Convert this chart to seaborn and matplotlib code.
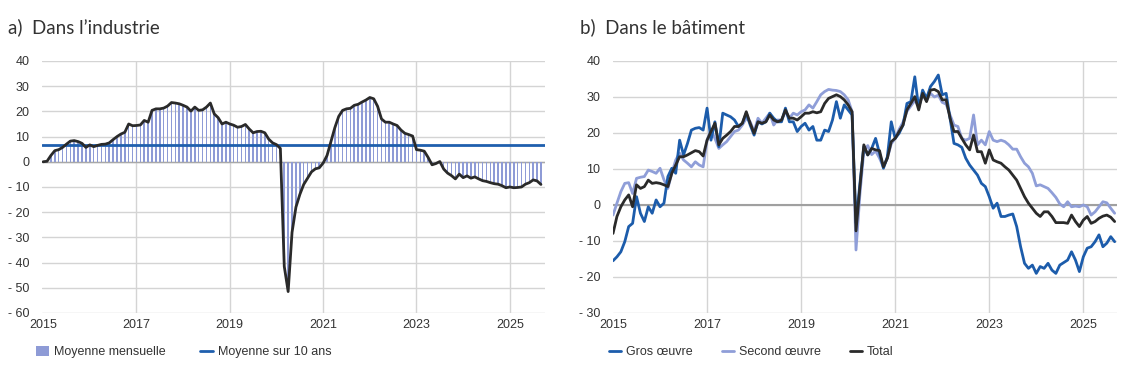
import matplotlib
matplotlib.use('Agg')
import matplotlib.pyplot as plt
import matplotlib.font_manager as fm
from matplotlib.lines import Line2D
from matplotlib.patches import Patch
from matplotlib.ticker import FuncFormatter
import seaborn as sns
import numpy as np

# Monthly data, Jan 2015 -> Sep 2025 (129 months)
industrie = [
    0, 0.2, 2.5, 4.4, 4.8, 5.7, 7, 8.2, 8.4, 8, 7.3, 5.7,
    6.7, 6, 6.5, 6.9, 7, 7.5, 8.8, 10, 11, 11.7, 15, 14.3,
    14.4, 14.6, 16.4, 15.7, 20.4, 21, 21, 21.3, 22.1, 23.5, 23.3, 23,
    22.4, 21.7, 20.1, 21.7, 20.4, 20.6, 21.7, 23.3, 19, 17.5, 15, 15.7,
    15, 14.5, 13.7, 14, 14.8, 13, 11.5, 12, 12.1, 11.5, 9, 7.5,
    6.8, 5.3, -41.5, -51.5, -28, -18, -13, -9, -6.5, -4, -2.8, -2.4,
    -0.5, 2.5, 8, 13.5, 18, 20.4, 21, 21.2, 22.4, 22.8, 23.7, 24.5,
    25.5, 25, 22, 17, 15.7, 15.7, 15, 14.4, 12.6, 11.3, 10.8, 10.2,
    4.8, 4.6, 4.2, 1.7, -1.2, -0.7, 0.1, -2.9, -4.5, -5.5, -6.8, -4.9,
    -6.3, -5.6, -6.5, -6, -6.8, -7.5, -7.8, -8.3, -8.7, -8.9, -9.5, -10.3,
    -10, -10.3, -10.2, -10, -8.9, -8.3, -7.2, -7.6, -9,
]
moyenne_10_ans = 6.7

gros_oeuvre = [
    -15.5, -14.4, -13, -10.2, -6, -5.1, 2.3, -2.3, -4.6, -0.5, -2.3, 1.4,
    -0.5, 0.5, 7.9, 10.2, 8.8, 18, 13.9, 17.1, 20.8, 21.3, 21.5, 20.8,
    26.9, 18, 23.1, 16.2, 25.5, 25, 24.5, 23.6, 21.8, 22.7, 25.5, 22.2,
    19.4, 23.1, 22.5, 23.1, 25.5, 24.1, 23.1, 23.1, 26.9, 23.1, 23.1, 20.4,
    21.8, 22.7, 20.8, 21.8, 18, 18, 20.8, 20.4, 23.6, 28.7, 24.1, 27.8,
    26.4, 25, -5, 6,
    16.2, 13.9, 15.7, 18.5, 14.4, 10.2, 13.4, 23.1,
    18.5, 19.9, 22.2, 28.2, 28.7, 35.6, 26.9, 31.9, 29.6, 32.9, 34.3, 36.1,
    30.6, 31, 24.1, 17.1, 16.7, 16, 13, 11.1, 9.7, 8.3, 6, 5.1,
    2.3, -0.9, 0.5, -3.2, -3.2, -2.8, -2.5, -6, -11.6, -16.2, -17.6, -16.7,
    -19, -17.1, -17.6, -16.2, -18.1, -19, -16.7, -16, -15.3, -13, -15.3, -18.5,
    -14.4, -12, -11.6, -10.2, -8.3, -11.6, -10.6, -8.8, -10.2,
]
second_oeuvre = [
    -2.8, 0.5, 3.7, 6, 6.2, 3.2, 7.4, 7.7, 7.9, 9.7, 9.3, 8.8,
    10.2, 7, 4.6, 8.8, 12.5, 14.4, 12.5, 11.6, 10.6, 12, 11.1, 10.6,
    18, 20.8, 18.5, 15.7, 16.7, 17.6, 19, 20.4, 20.8, 22.2, 24.1, 23.1,
    20.4, 24.1, 22.7, 24.1, 25.5, 22.2, 23.6, 23.6, 25.9, 24.1, 25.5, 25,
    25.9, 26.4, 27.8, 26.9, 28.7, 30.6, 31.5, 32.1, 31.9, 31.8, 31.5, 30.6,
    29.2, 25.9, -12.5, 3,
    15, 16.5, 14, 15, 13, 10.5, 13, 17,
    18.5, 21, 23, 26, 27.5, 29, 27.5, 30.5, 29, 31, 30, 30.5,
    28.5, 28, 25, 22.2, 21.8, 18.5, 18, 18.5, 25, 16.7, 18, 16.7,
    20.4, 18, 17.6, 18, 17.6, 16.7, 15.5, 15.5, 13.4, 11.6, 10.6, 8.8,
    5.3, 5.6, 5.1, 4.6, 3.4, 2.1, 0.3, -0.5, 0.9, -0.5, -0.3, -0.5,
    0, -0.5, -2.8, -1.9, -0.5, 0.9, 0.6, -0.9, -2.3,
]
total = [
    -7.9, -3.2, -0.5, 1.4, 2.8, -0.5, 5.6, 4.6, 5.1, 6.9, 6, 6.2,
    6, 5.6, 5.1, 8.8, 11.1, 13.4, 13.4, 13.9, 14.5, 15.1, 14.8, 13.6,
    18, 20.4, 22.7, 16.7, 18.5, 19.4, 20.4, 21.8, 21.8, 22.7, 25.9, 22.7,
    19.9, 23.1, 22.7, 23.1, 25, 23.6, 23.1, 23.6, 26.4, 24.1, 24.1, 23.6,
    24.5, 25.5, 25.5, 25.9, 25.6, 25.9, 28.2, 29.6, 30.1, 30.6, 30.1, 29.2,
    27.8, 25.9, -7.2, 5,
    16.7, 13.9, 15.7, 15.3, 15.1, 10.6, 13, 17.6,
    18.5, 20.4, 22.2, 26.4, 28.2, 30.1, 26.4, 31, 28.7, 31.9, 32.1, 31.5,
    29.2, 29.2, 24.1, 20.4, 20.4, 18.5, 16.7, 15.3, 19.4, 14.8, 14.8, 11.6,
    15.3, 12.5, 12, 11.6, 10.6, 9.7, 8.3, 6.9, 4.6, 2.3, 0.5, -0.9,
    -2.3, -3.2, -1.9, -1.9, -3.2, -4.9, -4.9, -4.9, -5.1, -2.8, -4.6, -6,
    -4.2, -3.2, -5.1, -4.6, -3.7, -3.1, -2.8, -3.4, -4.6,
]
year_ticks = [2015, 2017, 2019, 2021, 2023, 2025]

months = np.arange(len(industrie))

# fonts
avail = {f.name for f in fm.fontManager.ttflist}
if 'Liberation Sans Narrow' in avail:
    base_font, base_size = 'Liberation Sans Narrow', 10.5
else:
    base_font, base_size = 'Liberation Sans', 9

sns.set_style('white')
plt.rcParams['font.family'] = [base_font, 'DejaVu Sans']

c_bar = '#8e9bd6'
c_mean = '#1f5fae'
c_gros = '#1c5cab'
c_second = '#8f9ed8'
c_total = '#2a2a2a'
c_grid = '#d4d4d4'
c_text = '#333333'

fig = plt.figure(figsize=(11.25, 3.81), dpi=100)
ax1 = fig.add_axes([0.0373, 0.1785, 0.447, 0.6615])
ax2 = fig.add_axes([0.5449, 0.1785, 0.448, 0.6615])


def fmt_y(v, pos):
    v = int(round(v))
    return '- %d' % abs(v) if v < 0 else '%d' % v


def style_axis(ax, ylim):
    ax.set_ylim(*ylim)
    ax.set_yticks(np.arange(ylim[0], ylim[1] + 1, 10))
    ax.yaxis.set_major_formatter(FuncFormatter(fmt_y))
    ax.set_xticks([(y - 2015) * 12 for y in year_ticks])
    ax.set_xticklabels([str(y) for y in year_ticks])
    ax.grid(True, color=c_grid, lw=1)
    ax.set_axisbelow(True)
    ax.xaxis.get_gridlines()[0].set_visible(False)
    for sp in ax.spines.values():
        sp.set_visible(False)
    ax.tick_params(axis='both', length=0, labelsize=base_size, colors=c_text)
    ax.tick_params(axis='y', pad=9)
    ax.tick_params(axis='x', pad=4)
    ax.set_xlabel('')
    ax.set_ylabel('')


# a) industrie
sns.barplot(x=months, y=industrie, native_scale=True, width=0.4, color=c_bar,
            saturation=1, linewidth=0, errorbar=None, ax=ax1, zorder=2)
ax1.axhline(0, color='#a8a8a8', lw=1, zorder=1.5)
ax1.axhline(moyenne_10_ans, color=c_mean, lw=2, zorder=3)
sns.lineplot(x=months, y=industrie, color=c_total, lw=2, ax=ax1, zorder=4)
ax1.set_xlim(-0.3, 129)
style_axis(ax1, (-60, 40))

# b) batiment
ax2.axhline(0, color='#a0a0a0', lw=1.5, zorder=1.5)
sns.lineplot(x=months, y=second_oeuvre, color=c_second, lw=2, ax=ax2, zorder=3)
sns.lineplot(x=months, y=gros_oeuvre, color=c_gros, lw=2, ax=ax2, zorder=4)
sns.lineplot(x=months, y=total, color=c_total, lw=2, ax=ax2, zorder=5)
ax2.set_xlim(0, 128.6)
style_axis(ax2, (-30, 40))

# titles
fig.text(0.007, 0.929, 'a)  Dans l\u2019industrie', fontsize=13.5, family=['Lato', 'DejaVu Sans'],
         color='#333333', va='center', ha='left')
fig.text(0.5156, 0.929, 'b)  Dans le b\u00e2timent', fontsize=13.5, family=['Lato', 'DejaVu Sans'],
         color='#333333', va='center', ha='left')

# legends
h1 = [Patch(facecolor=c_bar, edgecolor='none'),
      Line2D([], [], color=c_mean, lw=2)]
fig.legend(h1, ['Moyenne mensuelle', 'Moyenne sur 10 ans'], loc='center left',
           bbox_to_anchor=(0.032, 0.076), ncol=2, frameon=False, fontsize=base_size,
           handlelength=1.0, handleheight=0.9, handletextpad=0.4, columnspacing=2.8,
           borderpad=0, borderaxespad=0, labelcolor=c_text)
h2 = [Line2D([], [], color=c_gros, lw=2),
      Line2D([], [], color=c_second, lw=2),
      Line2D([], [], color=c_total, lw=2)]
fig.legend(h2, ['Gros \u0153uvre', 'Second \u0153uvre', 'Total'], loc='center left',
           bbox_to_anchor=(0.541, 0.076), ncol=3, frameon=False, fontsize=base_size,
           handlelength=1.0, handletextpad=0.4, columnspacing=2.3,
           borderpad=0, borderaxespad=0, labelcolor=c_text)

fig.savefig('out.png', dpi=100)
